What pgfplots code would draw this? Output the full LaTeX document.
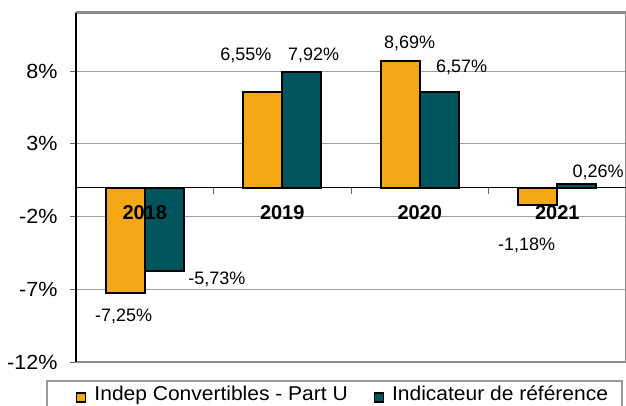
\documentclass[border=0pt]{standalone}
\usepackage{pgfplots}
\pgfplotsset{compat=1.18}
\usepackage{fontspec}
\setmainfont{Liberation Sans}
\newfontfamily\widefont{Liberation Sans}[FakeStretch=1.05]
\definecolor{borange}{RGB}{245,168,22}
\definecolor{bteal}{RGB}{0,84,94}
\begin{document}
\begin{tikzpicture}[x=1pt,y=1pt]
\begin{axis}[
  at={(76pt,43pt)}, anchor=south west,
  scale only axis, width=550pt, height=349pt,
  xmin=-0.5, xmax=3.5, ymin=-12, ymax=12,
  xtick=\empty,
  ytick={-12,-7,-2,3,8},
  yticklabel={\pgfmathprintnumber{\tick}\%},
  /pgf/number format/assume math mode=true,
  ytick pos=left, tick align=outside, major tick length=6pt,
  tick style={gray!80!black, line width=1pt},
  ymajorgrids, grid style={gray!75, line width=1pt},
  axis line style={gray!90, line width=1.2pt},
  yticklabel style={font=\widefont\fontsize{20.5}{24}\selectfont, xshift=-9pt},
  ybar=0pt, bar width=39pt,
  clip=false,
  legend columns=2,
  legend style={at={(0.0,-0.0917)}, anchor=west, draw=none, fill=none,
    font=\widefont\fontsize{20}{24}\selectfont, inner sep=0pt,
    nodes={inner sep=2pt},
    /tikz/every odd column/.append style={column sep=6pt},
    /tikz/every even column/.append style={column sep=24pt}},
  legend image code/.code={\draw[#1, draw=black, line width=1.3pt] (0.5pt,-8pt) rectangle (9.5pt,1pt);},
]
\addplot[fill=borange, draw=black, line width=2pt] coordinates {(0,-7.25) (1,6.55) (2,8.69) (3,-1.18)};
\addlegendentry{Indep Convertibles - Part U}
\addplot[fill=bteal, draw=black, line width=2pt] coordinates {(0,-5.73) (1,7.92) (2,6.57) (3,0.26)};
\addlegendentry{Indicateur de référence}
\draw[black, line width=1.2pt] (axis cs:-0.5,0) -- (axis cs:3.5,0);
\draw[gray!80!black, line width=1pt] (axis cs:0.5,0) -- ([yshift=-6pt]axis cs:0.5,0);
\draw[gray!80!black, line width=1pt] (axis cs:1.5,0) -- ([yshift=-6pt]axis cs:1.5,0);
\draw[gray!80!black, line width=1pt] (axis cs:2.5,0) -- ([yshift=-6pt]axis cs:2.5,0);
\draw[gray!90, line width=3pt] (axis cs:-0.5,12) -- (axis cs:3.5,12);
\draw[black, line width=2pt] (axis cs:-0.5,-12) -- (axis cs:-0.5,12);
\draw[gray!80, line width=1.2pt] (rel axis cs:-0.0527,-0.0544) rectangle (rel axis cs:0.9927,-0.25);
\begin{scope}[every node/.style={font=\fontsize{20}{24}\selectfont\bfseries}]
\node at (axis cs:0,-1.71) {2018};
\node at (axis cs:1,-1.71) {2019};
\node at (axis cs:2,-1.71) {2020};
\node at (axis cs:3,-1.71) {2021};
\end{scope}
\begin{scope}[every node/.style={font=\fontsize{18}{21}\selectfont}]
\node at (axis cs:0.735,9.11) {6,55\%};
\node at (axis cs:1.229,9.11) {7,92\%};
\node at (axis cs:1.927,9.93) {8,69\%};
\node at (axis cs:2.305,8.25) {6,57\%};
\node at (axis cs:-0.153,-8.87) {-7,25\%};
\node at (axis cs:0.524,-6.30) {-5,73\%};
\node at (axis cs:2.778,-3.97) {-1,18\%};
\node at (axis cs:3.298,1.03) {0,26\%};
\end{scope}
\end{axis}
\pgfresetboundingbox
\path[use as bounding box] (0,0) rectangle (626,405);
\end{tikzpicture}
\end{document}
